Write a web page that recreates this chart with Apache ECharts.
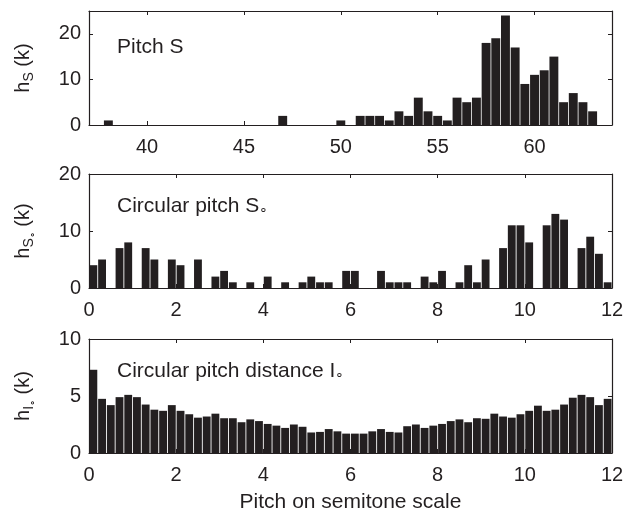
<!DOCTYPE html>
<html>
<head>
<meta charset="utf-8">
<script src="https://cdn.jsdelivr.net/npm/echarts@6/dist/echarts.min.js"></script>
<style>
  html, body { margin: 0; padding: 0; background: #fff; }
  #chart { width: 625px; height: 518px; }
</style>
</head>
<body>
<div id="chart"></div>
<script>
// panel 1: pitch S, 0.5 semitone bins (only the non-empty ones)
var pitchBins = [38, 47, 50, 51, 51.5, 52, 52.5, 53, 53.5, 54, 54.5, 55, 55.5, 56, 56.5,
                 57, 57.5, 58, 58.5, 59, 59.5, 60, 60.5, 61, 61.5, 62, 62.5, 63];
var pitchCounts = [1, 2, 1, 2, 2, 2, 1, 3, 2, 6, 3, 2, 1, 6, 5,
                   6, 18, 19, 24, 17, 9, 11, 12, 15, 5, 7, 5, 3];
var pitchTicks = [40, 45, 50, 55, 60];

// panels 2 and 3: 0.2 semitone bins on the circle 0..12
var circBins = [0.1, 0.3, 0.5, 0.7, 0.9, 1.1, 1.3, 1.5, 1.7, 1.9,
                2.1, 2.3, 2.5, 2.7, 2.9, 3.1, 3.3, 3.5, 3.7, 3.9,
                4.1, 4.3, 4.5, 4.7, 4.9, 5.1, 5.3, 5.5, 5.7, 5.9,
                6.1, 6.3, 6.5, 6.7, 6.9, 7.1, 7.3, 7.5, 7.7, 7.9,
                8.1, 8.3, 8.5, 8.7, 8.9, 9.1, 9.3, 9.5, 9.7, 9.9,
                10.1, 10.3, 10.5, 10.7, 10.9, 11.1, 11.3, 11.5, 11.7, 11.9];
var circCounts = [4, 5, 0, 7, 8, 0, 7, 5, 0, 5,
                  4, 0, 5, 0, 2, 3, 1, 0, 1, 0,
                  2, 0, 1, 0, 1, 2, 1, 1, 0, 3,
                  3, 0, 0, 3, 1, 1, 1, 0, 2, 1,
                  3, 0, 1, 4, 1, 5, 0, 7, 11, 11,
                  8, 0, 11, 13, 12, 0, 7, 9, 6, 1];
var distCounts = [7.3, 4.75, 4.2, 4.9, 5.1, 4.9, 4.25, 3.8, 3.7, 4.2,
                  3.7, 3.4, 3.1, 3.2, 3.45, 3.05, 3.05, 2.7, 2.95, 2.8,
                  2.55, 2.4, 2.2, 2.5, 2.3, 1.8, 1.85, 2.1, 1.9, 1.7,
                  1.7, 1.7, 1.9, 2.1, 1.85, 1.8, 2.35, 2.5, 2.2, 2.4,
                  2.55, 2.8, 2.95, 2.7, 3.05, 3.0, 3.45, 3.2, 3.1, 3.4,
                  3.7, 4.15, 3.7, 3.8, 4.25, 4.85, 5.1, 4.9, 4.2, 4.75];
var circTicks = [0, 2, 4, 6, 8, 10, 12];

var ink = '#231f20';
var font = 'Liberation Sans, Arial, sans-serif';
var chart = echarts.init(document.getElementById('chart'));

function zip(xs, ys) {
    return xs.map(function (x, i) { return [x, ys[i]]; });
}

var grids = [
    {left: 89, width: 523, top: 11, height: 114},
    {left: 89, width: 523, top: 174, height: 114},
    {left: 89, width: 523, top: 339, height: 114}
];
grids.forEach(function (g) { g.outerBoundsMode = 'none'; });

var xRanges = [[37, 64, pitchTicks], [0, 12, circTicks], [0, 12, circTicks]];
var yRanges = [[0, 25, [0, 10, 20]], [0, 20, [0, 10, 20]], [0, 10, [0, 5, 10]]];

// rich styles: a = normal text, s = subscript, o = small ring
var nameRich = {
    a: {fontSize: 20, color: ink, fontFamily: font},
    s: {fontSize: 14, color: ink, fontFamily: font, verticalAlign: 'bottom', padding: [0, 0, -3, 0]},
    o: {fontSize: 10, color: ink, fontFamily: font, verticalAlign: 'bottom', padding: [0, 0, -4, 0]}
};
var noteRich = {
    a: {fontSize: 21, color: ink, fontFamily: font, fontWeight: 'normal'},
    o: {fontSize: 14, color: ink, fontFamily: font, fontWeight: 'normal', verticalAlign: 'bottom'}
};
var yNames = ['{a|h}{s|S}{a| (k)}', '{a|h}{s|S}{o|∘}{a| (k)}', '{a|h}{s|I}{o|∘}{a| (k)}'];

var xAxes = [], yAxes = [];
for (var i = 0; i < 3; i++) {
    var xr = xRanges[i], yr = yRanges[i];
    xAxes.push({
        type: 'value', gridIndex: i, position: 'bottom', min: xr[0], max: xr[1],
        axisLine: {onZero: false, lineStyle: {color: ink, width: 1.2}},
        axisTick: {inside: true, length: 4, customValues: xr[2], lineStyle: {color: ink}},
        axisLabel: {customValues: xr[2], color: ink, fontSize: 20, fontFamily: font, margin: 12},
        splitLine: {show: false},
        name: i === 2 ? 'Pitch on semitone scale' : '',
        nameLocation: 'middle', nameGap: 39,
        nameTextStyle: {color: ink, fontSize: 21, fontFamily: font}
    });
    xAxes.push({
        type: 'value', gridIndex: i, position: 'top', min: xr[0], max: xr[1],
        axisLine: {onZero: false, lineStyle: {color: ink, width: 1.2}},
        axisTick: {inside: true, length: 4, customValues: xr[2], lineStyle: {color: ink}},
        axisLabel: {show: false},
        splitLine: {show: false}
    });
    yAxes.push({
        type: 'value', gridIndex: i, position: 'left', min: yr[0], max: yr[1],
        axisLine: {show: true, onZero: false, lineStyle: {color: ink, width: 1.2}},
        axisTick: {show: true, inside: true, length: 4, customValues: yr[2], lineStyle: {color: ink}},
        axisLabel: {customValues: yr[2], color: ink, fontSize: 20, fontFamily: font, margin: 8},
        splitLine: {show: false},
        name: yNames[i], nameLocation: 'middle', nameGap: 56, nameRotate: 90,
        nameTextStyle: {rich: nameRich}
    });
    yAxes.push({
        type: 'value', gridIndex: i, position: 'right', min: yr[0], max: yr[1],
        axisLine: {show: true, onZero: false, lineStyle: {color: ink, width: 1.2}},
        axisTick: {show: true, inside: true, length: 4, customValues: yr[2], lineStyle: {color: ink}},
        axisLabel: {show: false},
        splitLine: {show: false}
    });
}

var barStyle = {color: ink};
var option = {
    animation: false,
    backgroundColor: '#fff',
    textStyle: {fontFamily: font},
    grid: grids,
    xAxis: xAxes,
    yAxis: yAxes,
    title: [
        {text: '{a|Pitch S}', left: 112, top: 32, textStyle: {rich: noteRich}},
        {text: '{a|Circular pitch S}{o|∘}', left: 112, top: 191, textStyle: {rich: noteRich}},
        {text: '{a|Circular pitch distance I}{o|∘}', left: 112, top: 356, textStyle: {rich: noteRich}}
    ],
    series: [
        {type: 'bar', xAxisIndex: 0, yAxisIndex: 0, barWidth: '92%', itemStyle: barStyle,
         data: zip(pitchBins, pitchCounts)},
        {type: 'bar', xAxisIndex: 2, yAxisIndex: 2, barWidth: '90%', itemStyle: barStyle,
         data: zip(circBins, circCounts)},
        {type: 'bar', xAxisIndex: 4, yAxisIndex: 4, barWidth: '90%', itemStyle: barStyle,
         data: zip(circBins, distCounts)}
    ]
};
chart.setOption(option);
</script>
</body>
</html>
